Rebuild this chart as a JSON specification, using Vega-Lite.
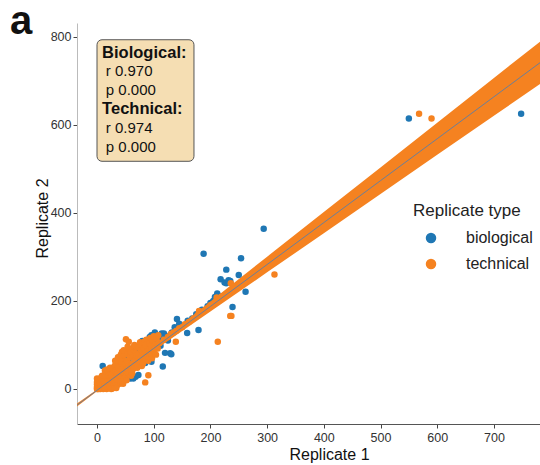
{
  "$schema": "https://vega.github.io/schema/vega-lite/v6.json",
  "autosize": {"type": "none"},
  "padding": {"left": 77, "top": 23, "right": 0, "bottom": 41},
  "width": 463,
  "height": 401,
  "title": {"text": "a", "anchor": "start", "frame": "group", "fontSize": 40, "fontWeight": "bold", "color": "#111", "baseline": "alphabetic", "offset": 4, "dx": -67, "dy": 55},
  "config": {
    "font": "Liberation Sans",
    "view": {"stroke": null},
    "axis": {"grid": false, "ticks": true, "tickSize": 4, "tickColor": "#444", "labelFontSize": 12.5, "labelColor": "#333", "titleFontSize": 16, "titleFontWeight": "normal", "titleColor": "#111"}
  },
  "datasets": {
    "points": [
      {"r1": 3, "r2": 2, "type": "biological"}, {"r1": 5, "r2": 8, "type": "biological"}, {"r1": 2, "r2": 12, "type": "biological"}, {"r1": 8, "r2": 4, "type": "biological"},
      {"r1": 12, "r2": 15, "type": "biological"}, {"r1": 6, "r2": 20, "type": "biological"}, {"r1": 18, "r2": 10, "type": "biological"}, {"r1": 20, "r2": 18, "type": "biological"},
      {"r1": 15, "r2": 25, "type": "biological"}, {"r1": 10, "r2": 52, "type": "biological"}, {"r1": 25, "r2": 30, "type": "biological"}, {"r1": 30, "r2": 22, "type": "biological"},
      {"r1": 28, "r2": 45, "type": "biological"}, {"r1": 38, "r2": 20, "type": "biological"}, {"r1": 35, "r2": 40, "type": "biological"}, {"r1": 42, "r2": 38, "type": "biological"},
      {"r1": 48, "r2": 70, "type": "biological"}, {"r1": 45, "r2": 55, "type": "biological"}, {"r1": 50, "r2": 48, "type": "biological"}, {"r1": 55, "r2": 62, "type": "biological"},
      {"r1": 58, "r2": 24, "type": "biological"}, {"r1": 60, "r2": 25, "type": "biological"}, {"r1": 64, "r2": 24, "type": "biological"}, {"r1": 68, "r2": 28, "type": "biological"},
      {"r1": 73, "r2": 32, "type": "biological"}, {"r1": 62, "r2": 58, "type": "biological"}, {"r1": 70, "r2": 75, "type": "biological"}, {"r1": 75, "r2": 68, "type": "biological"},
      {"r1": 65, "r2": 88, "type": "biological"}, {"r1": 72, "r2": 90, "type": "biological"}, {"r1": 85, "r2": 59, "type": "biological"}, {"r1": 96, "r2": 62, "type": "biological"},
      {"r1": 116, "r2": 51, "type": "biological"}, {"r1": 120, "r2": 82, "type": "biological"}, {"r1": 129, "r2": 81, "type": "biological"}, {"r1": 131, "r2": 79, "type": "biological"},
      {"r1": 85, "r2": 92, "type": "biological"}, {"r1": 90, "r2": 80, "type": "biological"}, {"r1": 88, "r2": 100, "type": "biological"}, {"r1": 100, "r2": 105, "type": "biological"},
      {"r1": 105, "r2": 95, "type": "biological"}, {"r1": 110, "r2": 118, "type": "biological"}, {"r1": 108, "r2": 112, "type": "biological"}, {"r1": 112, "r2": 98, "type": "biological"},
      {"r1": 79, "r2": 107, "type": "biological"}, {"r1": 80, "r2": 109, "type": "biological"}, {"r1": 93, "r2": 118, "type": "biological"}, {"r1": 95, "r2": 110, "type": "biological"},
      {"r1": 96, "r2": 122, "type": "biological"}, {"r1": 102, "r2": 128, "type": "biological"}, {"r1": 114, "r2": 126, "type": "biological"}, {"r1": 118, "r2": 126, "type": "biological"},
      {"r1": 122, "r2": 120, "type": "biological"}, {"r1": 125, "r2": 110, "type": "biological"}, {"r1": 132, "r2": 128, "type": "biological"}, {"r1": 137, "r2": 140, "type": "biological"},
      {"r1": 141, "r2": 159, "type": "biological"}, {"r1": 145, "r2": 148, "type": "biological"}, {"r1": 150, "r2": 142, "type": "biological"}, {"r1": 159, "r2": 127, "type": "biological"},
      {"r1": 160, "r2": 155, "type": "biological"}, {"r1": 168, "r2": 160, "type": "biological"}, {"r1": 175, "r2": 170, "type": "biological"}, {"r1": 179, "r2": 134, "type": "biological"},
      {"r1": 185, "r2": 180, "type": "biological"}, {"r1": 195, "r2": 188, "type": "biological"}, {"r1": 200, "r2": 195, "type": "biological"}, {"r1": 205, "r2": 200, "type": "biological"},
      {"r1": 208, "r2": 209, "type": "biological"}, {"r1": 213, "r2": 213, "type": "biological"}, {"r1": 212, "r2": 217, "type": "biological"}, {"r1": 218, "r2": 249, "type": "biological"},
      {"r1": 225, "r2": 242, "type": "biological"}, {"r1": 228, "r2": 240, "type": "biological"}, {"r1": 232, "r2": 247, "type": "biological"}, {"r1": 235, "r2": 245, "type": "biological"},
      {"r1": 228, "r2": 271, "type": "biological"}, {"r1": 250, "r2": 259, "type": "biological"}, {"r1": 254, "r2": 297, "type": "biological"}, {"r1": 188, "r2": 307, "type": "biological"},
      {"r1": 239, "r2": 186, "type": "biological"}, {"r1": 262, "r2": 221, "type": "biological"}, {"r1": 294, "r2": 364, "type": "biological"}, {"r1": 550, "r2": 614, "type": "biological"},
      {"r1": 748, "r2": 625, "type": "biological"},
      {"r1": 0, "r2": 0, "type": "technical"}, {"r1": 1, "r2": 0, "type": "technical"}, {"r1": 0, "r2": 2, "type": "technical"}, {"r1": 2, "r2": 1, "type": "technical"},
      {"r1": 1, "r2": 3, "type": "technical"}, {"r1": 3, "r2": 0, "type": "technical"}, {"r1": 0, "r2": 5, "type": "technical"}, {"r1": 4, "r2": 2, "type": "technical"},
      {"r1": 2, "r2": 6, "type": "technical"}, {"r1": 5, "r2": 1, "type": "technical"}, {"r1": 3, "r2": 4, "type": "technical"}, {"r1": 1, "r2": 8, "type": "technical"},
      {"r1": 0, "r2": 11, "type": "technical"}, {"r1": 4, "r2": 7, "type": "technical"}, {"r1": 5, "r2": 10, "type": "technical"}, {"r1": 2, "r2": 14, "type": "technical"},
      {"r1": 3, "r2": 17, "type": "technical"}, {"r1": 1, "r2": 20, "type": "technical"}, {"r1": 0, "r2": 24, "type": "technical"}, {"r1": 4, "r2": 13, "type": "technical"},
      {"r1": 5, "r2": 4, "type": "technical"}, {"r1": 2, "r2": 9, "type": "technical"}, {"r1": 0, "r2": 16, "type": "technical"}, {"r1": 4, "r2": 19, "type": "technical"},
      {"r1": 3, "r2": 22, "type": "technical"}, {"r1": 6, "r2": 0, "type": "technical"}, {"r1": 7, "r2": 3, "type": "technical"}, {"r1": 8, "r2": 6, "type": "technical"},
      {"r1": 6, "r2": 9, "type": "technical"}, {"r1": 9, "r2": 2, "type": "technical"}, {"r1": 7, "r2": 12, "type": "technical"}, {"r1": 8, "r2": 15, "type": "technical"},
      {"r1": 6, "r2": 18, "type": "technical"}, {"r1": 9, "r2": 21, "type": "technical"}, {"r1": 10, "r2": 5, "type": "technical"}, {"r1": 7, "r2": 24, "type": "technical"},
      {"r1": 8, "r2": 28, "type": "technical"}, {"r1": 10, "r2": 10, "type": "technical"}, {"r1": 9, "r2": 30, "type": "technical"}, {"r1": 6, "r2": 14, "type": "technical"},
      {"r1": 11, "r2": 0, "type": "technical"}, {"r1": 12, "r2": 4, "type": "technical"}, {"r1": 13, "r2": 8, "type": "technical"}, {"r1": 14, "r2": 12, "type": "technical"},
      {"r1": 15, "r2": 2, "type": "technical"}, {"r1": 16, "r2": 6, "type": "technical"}, {"r1": 12, "r2": 16, "type": "technical"}, {"r1": 17, "r2": 20, "type": "technical"},
      {"r1": 18, "r2": 10, "type": "technical"}, {"r1": 13, "r2": 24, "type": "technical"}, {"r1": 19, "r2": 3, "type": "technical"}, {"r1": 14, "r2": 28, "type": "technical"},
      {"r1": 16, "r2": 32, "type": "technical"}, {"r1": 11, "r2": 20, "type": "technical"}, {"r1": 18, "r2": 26, "type": "technical"}, {"r1": 20, "r2": 14, "type": "technical"},
      {"r1": 15, "r2": 36, "type": "technical"}, {"r1": 19, "r2": 18, "type": "technical"}, {"r1": 17, "r2": 0, "type": "technical"}, {"r1": 12, "r2": 30, "type": "technical"},
      {"r1": 20, "r2": 38, "type": "technical"}, {"r1": 14, "r2": 6, "type": "technical"}, {"r1": 14, "r2": 42, "type": "technical"}, {"r1": 18, "r2": 44, "type": "technical"},
      {"r1": 21, "r2": 2, "type": "technical"}, {"r1": 22, "r2": 8, "type": "technical"}, {"r1": 23, "r2": 15, "type": "technical"}, {"r1": 24, "r2": 20, "type": "technical"},
      {"r1": 25, "r2": 0, "type": "technical"}, {"r1": 26, "r2": 28, "type": "technical"}, {"r1": 27, "r2": 12, "type": "technical"}, {"r1": 22, "r2": 34, "type": "technical"},
      {"r1": 28, "r2": 5, "type": "technical"}, {"r1": 24, "r2": 40, "type": "technical"}, {"r1": 29, "r2": 24, "type": "technical"}, {"r1": 26, "r2": 44, "type": "technical"},
      {"r1": 30, "r2": 18, "type": "technical"}, {"r1": 21, "r2": 30, "type": "technical"}, {"r1": 23, "r2": 48, "type": "technical"}, {"r1": 28, "r2": 36, "type": "technical"},
      {"r1": 27, "r2": 1, "type": "technical"}, {"r1": 30, "r2": 10, "type": "technical"}, {"r1": 25, "r2": 32, "type": "technical"}, {"r1": 31, "r2": 3, "type": "technical"},
      {"r1": 32, "r2": 14, "type": "technical"}, {"r1": 33, "r2": 26, "type": "technical"}, {"r1": 34, "r2": 38, "type": "technical"}, {"r1": 35, "r2": 8, "type": "technical"},
      {"r1": 36, "r2": 46, "type": "technical"}, {"r1": 37, "r2": 20, "type": "technical"}, {"r1": 31, "r2": 52, "type": "technical"}, {"r1": 38, "r2": 30, "type": "technical"},
      {"r1": 39, "r2": 60, "type": "technical"}, {"r1": 33, "r2": 42, "type": "technical"}, {"r1": 40, "r2": 12, "type": "technical"}, {"r1": 35, "r2": 55, "type": "technical"},
      {"r1": 36, "r2": 34, "type": "technical"}, {"r1": 32, "r2": 64, "type": "technical"}, {"r1": 38, "r2": 48, "type": "technical"}, {"r1": 34, "r2": 2, "type": "technical"},
      {"r1": 40, "r2": 25, "type": "technical"}, {"r1": 37, "r2": 72, "type": "technical"}, {"r1": 41, "r2": 18, "type": "technical"}, {"r1": 42, "r2": 30, "type": "technical"},
      {"r1": 43, "r2": 44, "type": "technical"}, {"r1": 44, "r2": 58, "type": "technical"}, {"r1": 45, "r2": 70, "type": "technical"}, {"r1": 46, "r2": 36, "type": "technical"},
      {"r1": 47, "r2": 52, "type": "technical"}, {"r1": 42, "r2": 78, "type": "technical"}, {"r1": 48, "r2": 24, "type": "technical"}, {"r1": 49, "r2": 64, "type": "technical"},
      {"r1": 44, "r2": 84, "type": "technical"}, {"r1": 50, "r2": 40, "type": "technical"}, {"r1": 46, "r2": 12, "type": "technical"}, {"r1": 48, "r2": 78, "type": "technical"},
      {"r1": 43, "r2": 62, "type": "technical"}, {"r1": 47, "r2": 88, "type": "technical"}, {"r1": 50, "r2": 56, "type": "technical"}, {"r1": 51, "r2": 28, "type": "technical"},
      {"r1": 52, "r2": 46, "type": "technical"}, {"r1": 53, "r2": 64, "type": "technical"}, {"r1": 54, "r2": 80, "type": "technical"}, {"r1": 55, "r2": 36, "type": "technical"},
      {"r1": 56, "r2": 92, "type": "technical"}, {"r1": 57, "r2": 58, "type": "technical"}, {"r1": 58, "r2": 72, "type": "technical"}, {"r1": 52, "r2": 20, "type": "technical"},
      {"r1": 59, "r2": 44, "type": "technical"}, {"r1": 54, "r2": 96, "type": "technical"}, {"r1": 60, "r2": 84, "type": "technical"}, {"r1": 56, "r2": 52, "type": "technical"},
      {"r1": 60, "r2": 30, "type": "technical"}, {"r1": 61, "r2": 40, "type": "technical"}, {"r1": 62, "r2": 56, "type": "technical"}, {"r1": 63, "r2": 72, "type": "technical"},
      {"r1": 64, "r2": 90, "type": "technical"}, {"r1": 65, "r2": 96, "type": "technical"}, {"r1": 66, "r2": 50, "type": "technical"}, {"r1": 67, "r2": 66, "type": "technical"},
      {"r1": 68, "r2": 82, "type": "technical"}, {"r1": 62, "r2": 36, "type": "technical"}, {"r1": 69, "r2": 95, "type": "technical"}, {"r1": 70, "r2": 60, "type": "technical"},
      {"r1": 64, "r2": 46, "type": "technical"}, {"r1": 66, "r2": 100, "type": "technical"}, {"r1": 70, "r2": 76, "type": "technical"}, {"r1": 71, "r2": 48, "type": "technical"},
      {"r1": 72, "r2": 64, "type": "technical"}, {"r1": 73, "r2": 80, "type": "technical"}, {"r1": 74, "r2": 96, "type": "technical"}, {"r1": 75, "r2": 56, "type": "technical"},
      {"r1": 76, "r2": 106, "type": "technical"}, {"r1": 77, "r2": 70, "type": "technical"}, {"r1": 78, "r2": 88, "type": "technical"}, {"r1": 79, "r2": 52, "type": "technical"},
      {"r1": 80, "r2": 100, "type": "technical"}, {"r1": 76, "r2": 62, "type": "technical"}, {"r1": 81, "r2": 58, "type": "technical"}, {"r1": 82, "r2": 76, "type": "technical"},
      {"r1": 83, "r2": 92, "type": "technical"}, {"r1": 84, "r2": 108, "type": "technical"}, {"r1": 85, "r2": 66, "type": "technical"}, {"r1": 86, "r2": 84, "type": "technical"},
      {"r1": 87, "r2": 112, "type": "technical"}, {"r1": 88, "r2": 70, "type": "technical"}, {"r1": 89, "r2": 96, "type": "technical"}, {"r1": 90, "r2": 64, "type": "technical"},
      {"r1": 85, "r2": 100, "type": "technical"}, {"r1": 91, "r2": 74, "type": "technical"}, {"r1": 92, "r2": 90, "type": "technical"}, {"r1": 93, "r2": 104, "type": "technical"},
      {"r1": 94, "r2": 116, "type": "technical"}, {"r1": 95, "r2": 80, "type": "technical"}, {"r1": 96, "r2": 98, "type": "technical"}, {"r1": 97, "r2": 70, "type": "technical"},
      {"r1": 98, "r2": 110, "type": "technical"}, {"r1": 99, "r2": 88, "type": "technical"}, {"r1": 100, "r2": 120, "type": "technical"}, {"r1": 101, "r2": 84, "type": "technical"},
      {"r1": 103, "r2": 100, "type": "technical"}, {"r1": 105, "r2": 114, "type": "technical"}, {"r1": 107, "r2": 92, "type": "technical"}, {"r1": 108, "r2": 122, "type": "technical"},
      {"r1": 110, "r2": 104, "type": "technical"}, {"r1": 104, "r2": 78, "type": "technical"}, {"r1": 110, "r2": 105, "type": "technical"}, {"r1": 118, "r2": 112, "type": "technical"},
      {"r1": 125, "r2": 118, "type": "technical"}, {"r1": 130, "r2": 125, "type": "technical"}, {"r1": 135, "r2": 128, "type": "technical"}, {"r1": 140, "r2": 132, "type": "technical"},
      {"r1": 145, "r2": 138, "type": "technical"}, {"r1": 150, "r2": 140, "type": "technical"}, {"r1": 155, "r2": 147, "type": "technical"}, {"r1": 162, "r2": 152, "type": "technical"},
      {"r1": 170, "r2": 160, "type": "technical"}, {"r1": 178, "r2": 168, "type": "technical"}, {"r1": 185, "r2": 175, "type": "technical"}, {"r1": 192, "r2": 180, "type": "technical"},
      {"r1": 200, "r2": 190, "type": "technical"}, {"r1": 205, "r2": 193, "type": "technical"}, {"r1": 215, "r2": 203, "type": "technical"}, {"r1": 220, "r2": 210, "type": "technical"},
      {"r1": 228, "r2": 215, "type": "technical"}, {"r1": 238, "r2": 226, "type": "technical"}, {"r1": 245, "r2": 232, "type": "technical"}, {"r1": 180, "r2": 177, "type": "technical"},
      {"r1": 313, "r2": 260, "type": "technical"}, {"r1": 235, "r2": 166, "type": "technical"}, {"r1": 237, "r2": 166, "type": "technical"}, {"r1": 213, "r2": 107, "type": "technical"},
      {"r1": 51, "r2": 113, "type": "technical"}, {"r1": 56, "r2": 107, "type": "technical"}, {"r1": 139, "r2": 107, "type": "technical"}, {"r1": 90.5, "r2": 31, "type": "technical"},
      {"r1": 85, "r2": 15, "type": "technical"}, {"r1": 236, "r2": 240, "type": "technical"}, {"r1": 211, "r2": 208, "type": "technical"}, {"r1": 568, "r2": 625, "type": "technical"},
      {"r1": 590, "r2": 614, "type": "technical"}
    ],
    "band": [
      {"r1": -35.3, "lo": -39.5, "hi": -33.1, "fit": -36.6},
      {"r1": 0, "lo": -5, "hi": -1, "fit": -3},
      {"r1": 20, "lo": 14.5, "hi": 17.5, "fit": 16},
      {"r1": 50, "lo": 42.1, "hi": 47.1, "fit": 44.6},
      {"r1": 100, "lo": 86.7, "hi": 97.7, "fit": 92.2},
      {"r1": 200, "lo": 175.9, "hi": 198.9, "fit": 187.4},
      {"r1": 300, "lo": 264.8, "hi": 300.4, "fit": 282.6},
      {"r1": 400, "lo": 353.8, "hi": 401.8, "fit": 377.8},
      {"r1": 500, "lo": 443, "hi": 503, "fit": 473},
      {"r1": 600, "lo": 531.7, "hi": 604.7, "fit": 568.2},
      {"r1": 700, "lo": 620.4, "hi": 706.4, "fit": 663.4},
      {"r1": 781.3, "lo": 692.5, "hi": 788.5, "fit": 740.8}
    ],
    "box": [{"x1": 0, "x2": 171, "y1": 793, "y2": 517}],
    "heads": [
      {"x": 9, "y": 764, "label": "Biological:"},
      {"x": 9, "y": 635, "label": "Technical:"}
    ],
    "stats": [
      {"x": 15.5, "y": 721, "label": "r 0.970"},
      {"x": 15.5, "y": 678, "label": "p 0.000"},
      {"x": 15.5, "y": 592, "label": "r 0.974"},
      {"x": 15.5, "y": 549, "label": "p 0.000"}
    ]
  },
  "layer": [
    {
      "data": {"name": "points"},
      "mark": {"type": "circle", "size": 42, "opacity": 1},
      "encoding": {
        "x": {"field": "r1", "type": "quantitative", "scale": {"domain": [-35.3, 781.3], "nice": false, "zero": false},
              "axis": {"title": "Replicate 1", "values": [0, 100, 200, 300, 400, 500, 600, 700], "domainColor": "#555", "labelPadding": 3, "titleX": 252, "titleY": 35, "titleBaseline": "alphabetic", "titleAlign": "center"}},
        "y": {"field": "r2", "type": "quantitative", "scale": {"domain": [-79.5, 831], "nice": false, "zero": false},
              "axis": {"title": "Replicate 2", "values": [0, 200, 400, 600, 800], "domainColor": "#bbb", "labelPadding": 2, "titleX": -30, "titleY": 195, "titleBaseline": "alphabetic", "titleAlign": "center", "titleAngle": -90}},
        "color": {"field": "type", "type": "nominal", "scale": {"domain": ["biological", "technical"], "range": ["#1f77b4", "#f58220"]},
                  "legend": {"title": "Replicate type", "orient": "none", "legendX": 336, "legendY": 180, "titleFontSize": 17, "titleFontWeight": "normal", "titleColor": "#222", "labelFontSize": 16, "labelColor": "#222", "symbolType": "circle", "symbolSize": 110, "symbolOffset": 10, "labelOffset": 27, "rowPadding": 10, "titlePadding": 10, "symbolStrokeWidth": 0}}
      }
    },
    {
      "data": {"name": "band"},
      "mark": {"type": "area", "color": "#f58220", "opacity": 1, "clip": true},
      "encoding": {
        "x": {"field": "r1", "type": "quantitative"},
        "y": {"field": "lo", "type": "quantitative"},
        "y2": {"field": "hi"}
      }
    },
    {
      "data": {"name": "band"},
      "mark": {"type": "line", "color": "#6b7f99", "strokeWidth": 1, "clip": true},
      "encoding": {
        "x": {"field": "r1", "type": "quantitative"},
        "y": {"field": "fit", "type": "quantitative"}
      }
    },
    {
      "data": {"name": "box"},
      "mark": {"type": "rect", "fill": "#f5deb3", "stroke": "#555", "strokeWidth": 1, "cornerRadius": 5},
      "encoding": {
        "x": {"field": "x1", "type": "quantitative"},
        "x2": {"field": "x2"},
        "y": {"field": "y1", "type": "quantitative"},
        "y2": {"field": "y2"}
      }
    },
    {
      "data": {"name": "heads"},
      "mark": {"type": "text", "align": "left", "baseline": "middle", "fontSize": 16.5, "fontWeight": "bold", "color": "#111"},
      "encoding": {
        "x": {"field": "x", "type": "quantitative"},
        "y": {"field": "y", "type": "quantitative"},
        "text": {"field": "label"}
      }
    },
    {
      "data": {"name": "stats"},
      "mark": {"type": "text", "align": "left", "baseline": "middle", "fontSize": 15, "color": "#111"},
      "encoding": {
        "x": {"field": "x", "type": "quantitative"},
        "y": {"field": "y", "type": "quantitative"},
        "text": {"field": "label"}
      }
    }
  ]
}
